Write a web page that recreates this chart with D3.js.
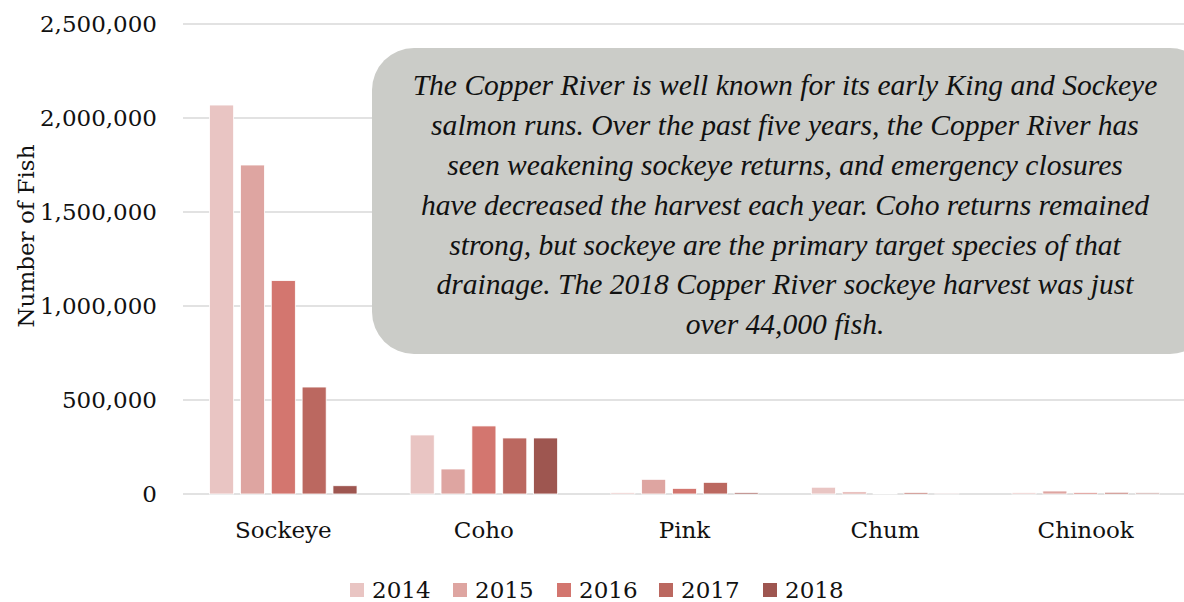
<!DOCTYPE html>
<html>
<head>
<meta charset="utf-8">
<script src="https://cdn.jsdelivr.net/npm/d3@7"></script>
<style>
  body { margin: 0; background: #fff; }
  svg text { font-family: "DejaVu Serif", "Liberation Serif", serif; fill: #111; }
  svg text.note { font-family: "Liberation Serif", serif; font-style: italic; }
</style>
</head>
<body>
<div id="chart"></div>
<script>
(function(){
  const width = 1184;
  const height = 602;

  // data
  const species = ["Sockeye", "Coho", "Pink", "Chum", "Chinook"];
  const years = ["2014", "2015", "2016", "2017", "2018"];
  const v2014 = [2069000, 314000, 8000, 36000, 8000];
  const v2015 = [1750000, 133000, 78000, 11000, 16000];
  const v2016 = [1135000, 362000, 30000, 3000, 8000];
  const v2017 = [569000, 298000, 62000, 8000, 9000];
  const v2018 = [44000, 298000, 8000, 2000, 6000];
  const yTicks = [0, 500000, 1000000, 1500000, 2000000, 2500000];
  const colors = ["#e9c5c3", "#dea5a1", "#d3766f", "#bb6860", "#9e5650"];
  const note = [
    "The Copper River is well known for its early King and Sockeye",
    "salmon runs. Over the past five years, the Copper River has",
    "seen weakening sockeye returns, and emergency closures",
    "have decreased the harvest each year. Coho returns remained",
    "strong, but sockeye are the primary target species of that",
    "drainage. The 2018 Copper River sockeye harvest was just",
    "over 44,000 fish."
  ];

  const series = [v2014, v2015, v2016, v2017, v2018];
  const margin = { top: 24, right: -2, bottom: 108, left: 183 };

  const svg = d3.select("#chart").append("svg")
    .attr("width", width).attr("height", height);

  const x0 = d3.scaleBand().domain(species)
    .range([margin.left, width - margin.right]).paddingInner(0.265).paddingOuter(0.1325);
  const x1 = d3.scaleBand().domain(years)
    .range([0, x0.bandwidth()]).paddingInner(0.22);
  const y = d3.scaleLinear().domain([0, 2500000])
    .range([height - margin.bottom, margin.top]);

  // gridlines
  svg.append("g").selectAll("line").data(yTicks).join("line")
    .attr("x1", margin.left).attr("x2", width)
    .attr("y1", d => y(d)).attr("y2", d => y(d))
    .attr("stroke", "#d9d9d9").attr("stroke-width", 1.5);

  // y tick labels
  svg.append("g").selectAll("text").data(yTicks).join("text")
    .attr("x", 157).attr("y", d => y(d))
    .attr("dy", "0.35em").attr("text-anchor", "end")
    .style("font-size", "23px")
    .text(d => d3.format(",")(d));

  svg.append("text")
    .attr("transform", "translate(34,236) rotate(-90)")
    .attr("text-anchor", "middle")
    .style("font-size", "23px")
    .text("Number of Fish");

  // bars
  const groups = svg.append("g").selectAll("g").data(species).join("g")
    .attr("transform", d => `translate(${x0(d)},0)`);
  groups.selectAll("rect")
    .data((d, i) => years.map((yr, j) => ({ yr, v: series[j][i], c: colors[j] })))
    .join("rect")
    .attr("x", d => x1(d.yr))
    .attr("width", x1.bandwidth())
    .attr("y", d => y(d.v))
    .attr("height", d => y(0) - y(d.v))
    .attr("fill", d => d.c)
    .attr("stroke", "#fff").attr("stroke-width", 0.8);

  // category labels
  svg.append("g").selectAll("text").data(species).join("text")
    .attr("x", d => x0(d) + x0.bandwidth() / 2)
    .attr("y", 530).attr("dy", "0.35em")
    .attr("text-anchor", "middle")
    .style("font-size", "23px")
    .text(d => d);

  // legend
  const legX = [350, 453, 557, 659, 763];
  const leg = svg.append("g").selectAll("g").data(years).join("g")
    .attr("transform", (d, i) => `translate(${legX[i]},590)`);
  leg.append("rect").attr("x", 0).attr("y", -7).attr("width", 14).attr("height", 14)
    .attr("fill", (d, i) => colors[i]);
  leg.append("text").attr("x", 22).attr("dy", "0.35em")
    .style("font-size", "23px").text(d => d);

  // annotation box
  svg.append("rect")
    .attr("x", 372).attr("y", 48).attr("width", 840).attr("height", 306)
    .attr("rx", 42).attr("ry", 42)
    .attr("fill", "#cbccc8");
  const noteText = svg.append("g").selectAll("text").data(note).join("text")
    .attr("class", "note")
    .attr("x", 785).attr("y", (d, i) => 85 + i * 39.8)
    .attr("dy", "0.35em").attr("text-anchor", "middle")
    .style("font-size", "24px")
    .text(d => d);
  // size the note so its first line spans about 745px, as in the picture
  const w0 = noteText.node().getComputedTextLength();
  if (w0 > 0) noteText.style("font-size", (24 * 745 / w0).toFixed(2) + "px");
})();
</script>
</body>
</html>
